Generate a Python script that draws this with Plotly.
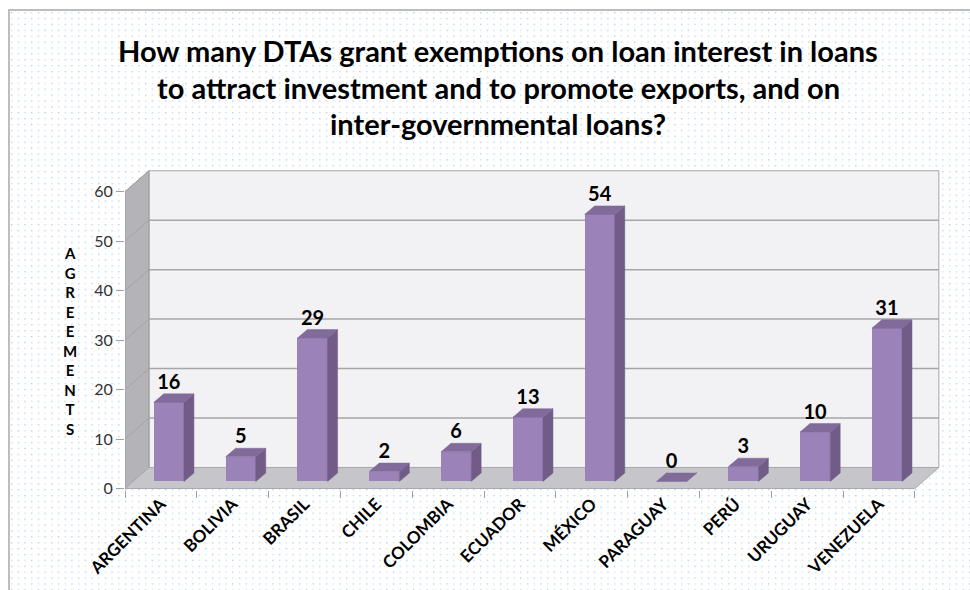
import base64
import plotly.graph_objects as go

# ---- data -------------------------------------------------------------
countries = ["ARGENTINA", "BOLIVIA", "BRASIL", "CHILE", "COLOMBIA", "ECUADOR",
             "MÉXICO", "PARAGUAY", "PERÚ", "URUGUAY", "VENEZUELA"]
agreements = [16, 5, 29, 2, 6, 13, 54, 0, 3, 10, 31]
y_ticks = [0, 10, 20, 30, 40, 50, 60]
title_lines = [
    "How many DTAs grant exemptions on loan interest in loans",
    "to attract investment and to promote exports, and on",
    "inter-governmental loans?",
]
axis_title = "AGREEMENTS"

# ---- layout geometry ---------------------------------------------------
W, H = 970, 590
ML, MR, MT, MB = 125, 30, 168, 100
PW, PH = W - ML - MR, H - MT - MB
X_RANGE = [-0.5, 10.85]
Y_RANGE = [-0.3, 64.8]

# depth of the 3-D box (data units)
DX, DY = 0.334, 4.25
# bar placement inside the box and bar extrusion
BAR_OX, BAR_OY = 0.111, 1.42
BAR_W = 0.42
BAR_SX, BAR_SY = 0.139, 1.72

FONT = "Lato, 'Open Sans', sans-serif"
FRONT = "#9b82b9"
SIDE = "#705c87"
TOP = "#806b9b"


def paper_x(px):
    return (px - ML) / PW


def paper_y(py):
    return (H - MB - py) / PH


n = len(countries)
x0, x1 = -0.5, n - 0.5
ymax = y_ticks[-1]

fig = go.Figure()

# ---- bars: front faces -------------------------------------------------
bar_x = [i + BAR_OX for i in range(n)]
fig.add_trace(go.Bar(
    x=bar_x, y=agreements, base=BAR_OY, width=BAR_W,
    marker=dict(color=FRONT, line=dict(width=0)),
    hoverinfo="skip", showlegend=False,
))

# ---- bars: side and top faces -----------------------------------------
side_x, side_y, top_x, top_y = [], [], [], []
for xc, v in zip(bar_x, agreements):
    xl, xr = xc - BAR_W / 2, xc + BAR_W / 2
    yb, yt = BAR_OY, BAR_OY + v
    side_x += [xr, xr, xr + BAR_SX, xr + BAR_SX, xr, None]
    side_y += [yb, yt, yt + BAR_SY, yb + BAR_SY, yb, None]
    top_x += [xl, xr, xr + BAR_SX, xl + BAR_SX, xl, None]
    top_y += [yt, yt, yt + BAR_SY, yt + BAR_SY, yt, None]

fig.add_trace(go.Scatter(
    x=side_x, y=side_y, mode="lines", fill="toself",
    fillcolor=SIDE, line=dict(color=SIDE, width=0.5),
    hoverinfo="skip", showlegend=False,
))
fig.add_trace(go.Scatter(
    x=top_x, y=top_y, mode="lines", fill="toself",
    fillcolor=TOP, line=dict(color=TOP, width=0.5),
    hoverinfo="skip", showlegend=False,
))

# ---- value labels ------------------------------------------------------
fig.add_trace(go.Scatter(
    x=bar_x, y=[v + BAR_OY + BAR_SY for v in agreements],
    mode="text", text=[str(v) for v in agreements],
    textposition="top center",
    textfont=dict(family=FONT, size=20, color="black", weight="bold"),
    hoverinfo="skip", showlegend=False, cliponaxis=False,
))

# ---- 3-D box: walls, floor and gridlines (below the traces) ------------
shapes = []


def poly(pts, fill, line="#a6a6a6", width=1):
    path = "M " + " L ".join(f"{x},{y}" for x, y in pts) + " Z"
    shapes.append(dict(type="path", path=path, xref="x", yref="y",
                       fillcolor=fill, line=dict(color=line, width=width),
                       layer="below"))


poly([(x0 + DX, DY), (x1 + DX, DY), (x1 + DX, ymax + DY), (x0 + DX, ymax + DY)],
     "#f2f2f4")
poly([(x0, 0), (x0, ymax), (x0 + DX, ymax + DY), (x0 + DX, DY)], "#b4b3b8",
     line="#9a999e")
poly([(x0, 0), (x1, 0), (x1 + DX, DY), (x0 + DX, DY)], "#c6c5c9",
     line="#a9a8ac")

for t in y_ticks[1:-1]:
    shapes.append(dict(type="line", xref="x", yref="y",
                       x0=x0 + DX, x1=x1 + DX, y0=t + DY, y1=t + DY,
                       line=dict(color="#a6a6a6", width=1.5), layer="below"))
for t in y_ticks[1:]:
    shapes.append(dict(type="line", xref="x", yref="y",
                       x0=x0, x1=x0 + DX, y0=t, y1=t + DY,
                       line=dict(color="#a3a2a7", width=1), layer="below"))

# outer frame of the chart
shapes.append(dict(type="rect", xref="paper", yref="paper",
                   x0=paper_x(9), x1=paper_x(W + 5),
                   y0=paper_y(H + 5), y1=paper_y(10),
                   line=dict(color="#bdbdbd", width=2), layer="above"))

# ---- dotted background ---------------------------------------------------
svg = (
    '<svg xmlns="http://www.w3.org/2000/svg" width="960" height="580">'
    '<defs><pattern id="p" width="13.4" height="11.8" patternUnits="userSpaceOnUse">'
    '<rect x="1" y="1" width="1.3" height="1.3" fill="#a9c7e6"/>'
    '<rect x="7.7" y="1" width="1.3" height="1.3" fill="#c9dcef"/>'
    '<rect x="1" y="6.9" width="1.3" height="1.3" fill="#c9dcef"/>'
    '<rect x="7.7" y="6.9" width="1.3" height="1.3" fill="#a9c7e6"/>'
    '</pattern></defs>'
    '<rect width="960" height="580" fill="white"/>'
    '<rect width="960" height="580" fill="url(#p)"/></svg>'
)
bg_src = "data:image/svg+xml;base64," + base64.b64encode(svg.encode()).decode()
images = [dict(source=bg_src, xref="paper", yref="paper",
               x=paper_x(10), y=paper_y(11),
               sizex=paper_x(W) - paper_x(10), sizey=paper_y(11) - paper_y(H),
               xanchor="left", yanchor="top", sizing="stretch", layer="below")]

# ---- text annotations ----------------------------------------------------
annotations = []
for line, py in zip(title_lines, [50, 87, 123]):
    annotations.append(dict(text=line, xref="paper", yref="paper",
                            x=paper_x(498), y=paper_y(py),
                            xanchor="center", yanchor="middle", showarrow=False,
                            font=dict(family=FONT, size=29, color="black",
                                      weight="bold")))

# vertical, letter-stacked axis title
annotations.append(dict(text="<br>".join(axis_title), xref="paper", yref="paper",
                        x=paper_x(70), y=paper_y(341),
                        xanchor="center", yanchor="middle", showarrow=False,
                        align="center",
                        font=dict(family=FONT, size=15, color="black",
                                  weight="bold")))

fig.update_layout(
    width=W, height=H, autosize=False,
    margin=dict(l=ML, r=MR, t=MT, b=MB),
    paper_bgcolor="white", plot_bgcolor="rgba(0,0,0,0)",
    shapes=shapes, images=images, annotations=annotations,
    showlegend=False, bargap=0,
    xaxis=dict(range=X_RANGE, tickmode="array", tickvals=list(range(n)),
               ticktext=countries, tickangle=-45, ticks="",
               tickfont=dict(family=FONT, size=17, color="black", weight="bold"),
               showgrid=False, zeroline=False, showline=False,
               minor=dict(tickmode="array",
                          tickvals=[i - 0.5 for i in range(n + 1)],
                          ticks="outside", ticklen=7, tickcolor="#a0a0a0",
                          tickwidth=1, showgrid=False)),
    yaxis=dict(range=Y_RANGE, tickmode="array", tickvals=y_ticks,
               ticks="outside", ticklen=8, tickcolor="#a0a0a0",
               tickfont=dict(family=FONT, size=16, color="#333333"),
               showgrid=False, zeroline=False, showline=False),
)

fig.write_html("out.html")
